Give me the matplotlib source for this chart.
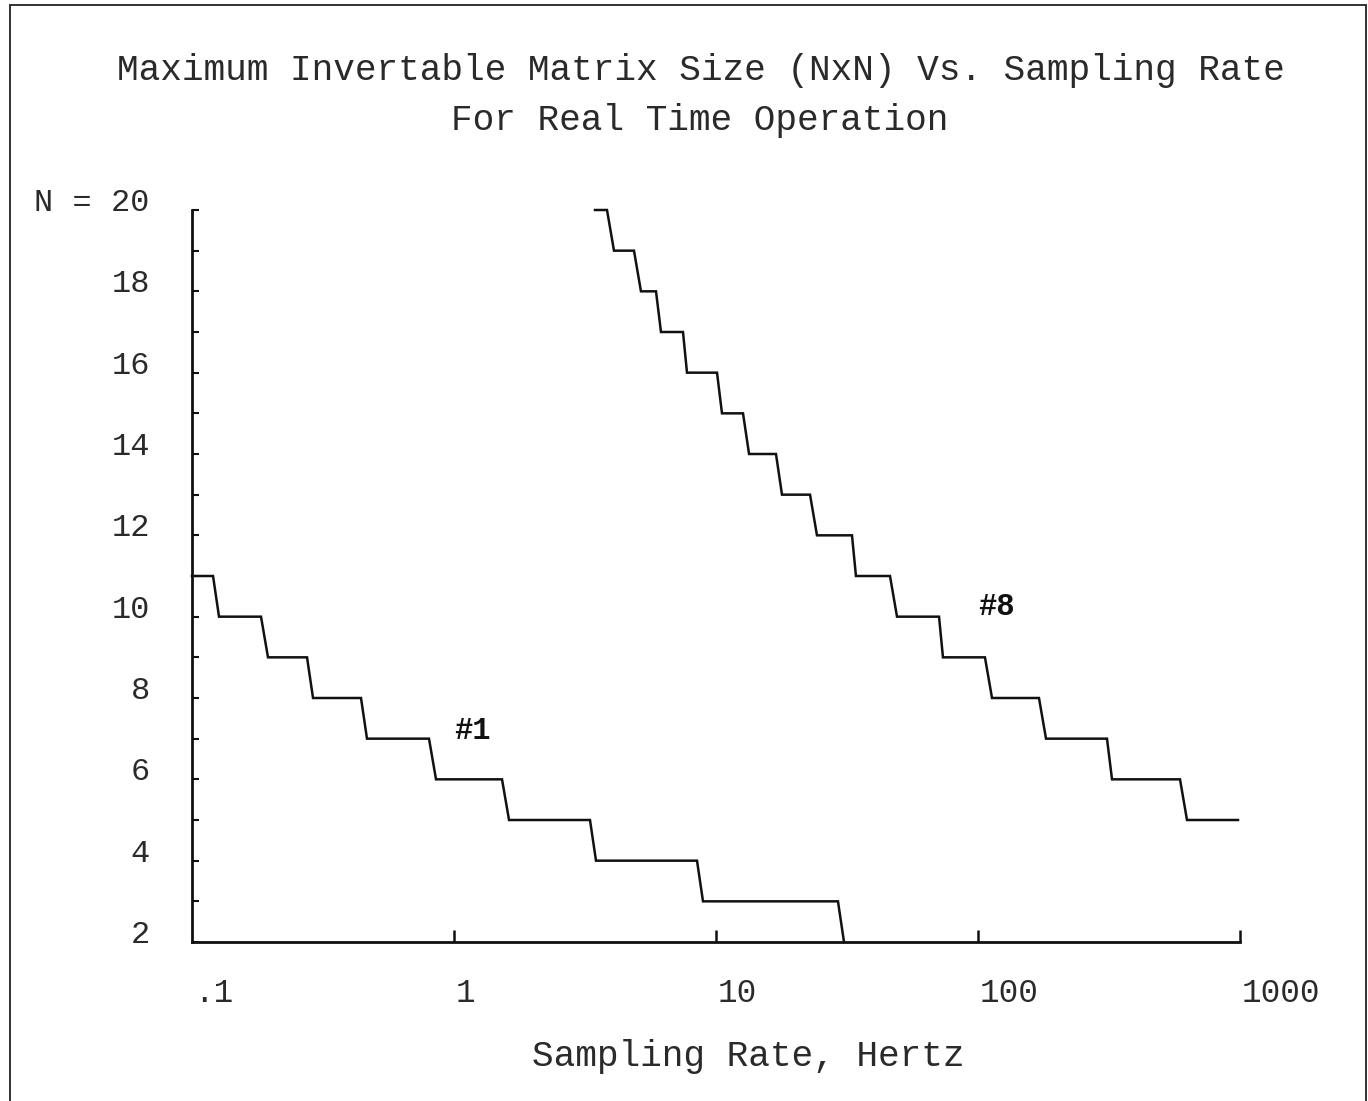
import matplotlib
matplotlib.use("Agg")
import matplotlib.pyplot as plt
import matplotlib.transforms as mtransforms
from matplotlib.patches import Rectangle

# ---------------- data ----------------
# Curve #1: level N held until x_top_end, then drops (slightly slanted) to N-1 at x_bottom
c1_start = 0.1
c1_levels = [11, 10, 9, 8, 7, 6, 5, 4, 3]
c1_top_end = [0.1203, 0.1834, 0.2748, 0.4416, 0.8027, 1.525, 3.304, 8.463, 29.21]
c1_bottom = [0.1268, 0.1950, 0.2897, 0.4655, 0.8538, 1.622, 3.483, 8.92, 30.8]

# Curve #8
c8_start = 3.452
c8_levels = [20, 19, 18, 17, 16, 15, 14, 13, 12, 11, 10, 9, 8, 7, 6]
c8_top_end = [3.837, 4.864, 5.902, 7.482, 10.09, 12.68, 16.94, 22.85, 33.04,
              46.14, 71.0, 106.3, 170.9, 310.7, 590.2]
c8_bottom = [4.080, 5.171, 6.166, 7.750, 10.54, 13.37, 17.86, 24.29, 34.21,
             49.08, 73.5, 113.1, 181.8, 324.7, 627.6]
c8_last_level = 5
c8_end = 982.6

x_ticks = [0.1, 1, 10, 100, 1000]
x_tick_labels = [".1", "1", "10", "100", "1000"]
y_ticks = list(range(2, 21))
y_label_values = [2, 4, 6, 8, 10, 12, 14, 16, 18, 20]
y_label_texts = ["2", "4", "6", "8", "10", "12", "14", "16", "18", "N = 20"]

title1 = "Maximum Invertable Matrix Size (NxN) Vs. Sampling Rate"
title2 = "For Real Time Operation"
xlabel = "Sampling Rate, Hertz"

# ---------------- figure ----------------
W, H = 1368, 1101
fig = plt.figure(figsize=(W / 100, H / 100), dpi=100)
fig.patch.set_facecolor("white")

mono = ["Liberation Mono", "DejaVu Sans Mono"]
ink = "#111111"
text_ink = "#2a2a2a"

# page frame
fig.add_artist(Rectangle((10 / W, -0.05), (1366 - 10) / W, 1 - 5 / H + 0.05,
                         transform=fig.transFigure, fill=False,
                         edgecolor="#222222", linewidth=1.3))

ax_left, ax_right = 192, 1240
ax_top, ax_bottom = 210, 942
ax = fig.add_axes([ax_left / W, 1 - ax_bottom / H,
                   (ax_right - ax_left) / W, (ax_bottom - ax_top) / H])
ax.set_xscale("log")
ax.set_xlim(0.1, 1000)
ax.set_ylim(2, 20)
for s in ("top", "right"):
    ax.spines[s].set_visible(False)
for s in ("left", "bottom"):
    ax.spines[s].set_linewidth(2.0)
    ax.spines[s].set_color(ink)


def build(start, levels, top_end, bottom):
    xs, ys = [start], [levels[0]]
    for n, xe, xb in zip(levels, top_end, bottom):
        xs += [xe, xb]
        ys += [n, n - 1]
    return xs, ys


x1, y1 = build(c1_start, c1_levels, c1_top_end, c1_bottom)
x8, y8 = build(c8_start, c8_levels, c8_top_end, c8_bottom)
x8.append(c8_end)
y8.append(c8_last_level)

ax.plot(x1, y1, color=ink, linewidth=1.8, solid_joinstyle="miter", clip_on=False)
ax.plot(x8, y8, color=ink, linewidth=1.8, solid_joinstyle="miter", clip_on=False)

# ticks
ax.set_yticks(y_ticks)
ax.set_yticklabels([])
ax.tick_params(axis="y", direction="in", length=5, width=1.5, color=ink)
ax.set_xticks(x_ticks[1:])
ax.set_xticklabels([])
ax.xaxis.set_minor_locator(matplotlib.ticker.NullLocator())
ax.tick_params(axis="x", direction="in", length=8.5, width=1.8, color=ink)

# y tick labels
ytr = ax.get_yaxis_transform() + mtransforms.ScaledTranslation(-42 / 100, 7 / 100, fig.dpi_scale_trans)
for v, t in zip(y_label_values, y_label_texts):
    ax.text(0, v, t, transform=ytr, ha="right", va="center",
            fontsize=23, family=mono, color=text_ink, clip_on=False)

# x tick labels
xtr = ax.get_xaxis_transform() + mtransforms.ScaledTranslation(2 / 100, -51 / 100, fig.dpi_scale_trans)
for v, t in zip(x_ticks, x_tick_labels):
    ax.text(v, 0, t, transform=xtr, ha="left", va="center",
            fontsize=23.5, family=mono, color=text_ink, clip_on=False)

# curve labels
ax.text(1.0, 7.19, "#1", ha="left", va="center", fontsize=22,
        family=mono, color=ink, fontweight="bold")
ax.text(100, 10.24, "#8", ha="left", va="center", fontsize=22,
        family=mono, color=ink, fontweight="bold")

# titles and axis label
fig.text(701 / W, 1 - 70 / H, title1, ha="center", va="center",
         fontsize=26, family=mono, color=text_ink)
fig.text(700 / W, 1 - 120 / H, title2, ha="center", va="center",
         fontsize=26, family=mono, color=text_ink)
fig.text(748 / W, 1 - 1056 / H, xlabel, ha="center", va="center",
         fontsize=26, family=mono, color=text_ink)

fig.savefig("out.png", dpi=100, facecolor="white")
